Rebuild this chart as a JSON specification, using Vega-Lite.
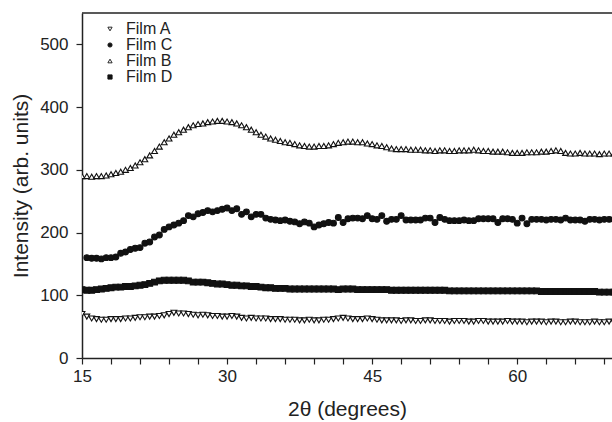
{
  "$schema": "https://vega.github.io/schema/vega-lite/v6.json",
  "autosize": {"type": "none"},
  "padding": {"left": 82, "top": 13, "right": 0, "bottom": 64},
  "width": 530,
  "height": 345,
  "background": "white",
  "config": {
    "view": {"stroke": null},
    "font": "Liberation Sans",
    "axis": {"grid": false, "domainColor": "#222", "domainWidth": 1.5, "tickColor": "#222", "tickWidth": 1.2, "tickSize": 6, "labelColor": "#222", "titleColor": "#222", "labelFont": "Liberation Sans", "titleFont": "Liberation Sans", "labelFontSize": 17, "titleFontSize": 21, "titleFontWeight": "normal"}
  },
  "datasets": {
    "films": [
      {"t":15,"f":"Film A","v":70},{"t":15.5,"f":"Film A","v":66},{"t":16,"f":"Film A","v":63},{"t":16.5,"f":"Film A","v":62},{"t":17,"f":"Film A","v":61},{"t":17.5,"f":"Film A","v":61},{"t":18,"f":"Film A","v":62},{"t":18.5,"f":"Film A","v":62},{"t":19,"f":"Film A","v":62},{"t":19.5,"f":"Film A","v":63},{"t":20,"f":"Film A","v":63},{"t":20.5,"f":"Film A","v":64},{"t":21,"f":"Film A","v":65},{"t":21.5,"f":"Film A","v":65},{"t":22,"f":"Film A","v":66},{"t":22.5,"f":"Film A","v":66},{"t":23,"f":"Film A","v":67},{"t":23.5,"f":"Film A","v":68},{"t":24,"f":"Film A","v":70},{"t":24.5,"f":"Film A","v":72},{"t":25,"f":"Film A","v":71},{"t":25.5,"f":"Film A","v":71},{"t":26,"f":"Film A","v":70},{"t":26.5,"f":"Film A","v":69},{"t":27,"f":"Film A","v":68},{"t":27.5,"f":"Film A","v":69},{"t":28,"f":"Film A","v":68},{"t":28.5,"f":"Film A","v":67},{"t":29,"f":"Film A","v":67},{"t":29.5,"f":"Film A","v":66},{"t":30,"f":"Film A","v":66},{"t":30.5,"f":"Film A","v":67},{"t":31,"f":"Film A","v":66},{"t":31.5,"f":"Film A","v":64},{"t":32,"f":"Film A","v":63},{"t":32.5,"f":"Film A","v":64},{"t":33,"f":"Film A","v":63},{"t":33.5,"f":"Film A","v":63},{"t":34,"f":"Film A","v":63},{"t":34.5,"f":"Film A","v":62},{"t":35,"f":"Film A","v":62},{"t":35.5,"f":"Film A","v":62},{"t":36,"f":"Film A","v":61},{"t":36.5,"f":"Film A","v":61},{"t":37,"f":"Film A","v":61},{"t":37.5,"f":"Film A","v":60},{"t":38,"f":"Film A","v":60},{"t":38.5,"f":"Film A","v":61},{"t":39,"f":"Film A","v":60},{"t":39.5,"f":"Film A","v":60},{"t":40,"f":"Film A","v":61},{"t":40.5,"f":"Film A","v":61},{"t":41,"f":"Film A","v":62},{"t":41.5,"f":"Film A","v":63},{"t":42,"f":"Film A","v":64},{"t":42.5,"f":"Film A","v":63},{"t":43,"f":"Film A","v":62},{"t":43.5,"f":"Film A","v":62},{"t":44,"f":"Film A","v":62},{"t":44.5,"f":"Film A","v":63},{"t":45,"f":"Film A","v":62},{"t":45.5,"f":"Film A","v":61},{"t":46,"f":"Film A","v":60},{"t":46.5,"f":"Film A","v":60},{"t":47,"f":"Film A","v":60},{"t":47.5,"f":"Film A","v":60},{"t":48,"f":"Film A","v":59},{"t":48.5,"f":"Film A","v":60},{"t":49,"f":"Film A","v":60},{"t":49.5,"f":"Film A","v":59},{"t":50,"f":"Film A","v":59},{"t":50.5,"f":"Film A","v":60},{"t":51,"f":"Film A","v":60},{"t":51.5,"f":"Film A","v":59},{"t":52,"f":"Film A","v":59},{"t":52.5,"f":"Film A","v":59},{"t":53,"f":"Film A","v":58},{"t":53.5,"f":"Film A","v":59},{"t":54,"f":"Film A","v":59},{"t":54.5,"f":"Film A","v":59},{"t":55,"f":"Film A","v":58},{"t":55.5,"f":"Film A","v":58},{"t":56,"f":"Film A","v":59},{"t":56.5,"f":"Film A","v":59},{"t":57,"f":"Film A","v":58},{"t":57.5,"f":"Film A","v":58},{"t":58,"f":"Film A","v":58},{"t":58.5,"f":"Film A","v":58},{"t":59,"f":"Film A","v":59},{"t":59.5,"f":"Film A","v":58},{"t":60,"f":"Film A","v":58},{"t":60.5,"f":"Film A","v":58},{"t":61,"f":"Film A","v":57},{"t":61.5,"f":"Film A","v":58},{"t":62,"f":"Film A","v":58},{"t":62.5,"f":"Film A","v":58},{"t":63,"f":"Film A","v":57},{"t":63.5,"f":"Film A","v":58},{"t":64,"f":"Film A","v":58},{"t":64.5,"f":"Film A","v":57},{"t":65,"f":"Film A","v":57},{"t":65.5,"f":"Film A","v":58},{"t":66,"f":"Film A","v":58},{"t":66.5,"f":"Film A","v":57},{"t":67,"f":"Film A","v":57},{"t":67.5,"f":"Film A","v":57},{"t":68,"f":"Film A","v":58},{"t":68.5,"f":"Film A","v":57},{"t":69,"f":"Film A","v":57},{"t":69.5,"f":"Film A","v":58},{"t":70,"f":"Film A","v":57},

      {"t":15.5,"f":"Film C","v":160},{"t":16,"f":"Film C","v":159},{"t":16.5,"f":"Film C","v":159},{"t":17,"f":"Film C","v":158},{"t":17.5,"f":"Film C","v":160},{"t":18,"f":"Film C","v":160},{"t":18.5,"f":"Film C","v":161},{"t":19,"f":"Film C","v":167},{"t":19.5,"f":"Film C","v":169},{"t":20,"f":"Film C","v":173},{"t":20.5,"f":"Film C","v":175},{"t":21,"f":"Film C","v":176},{"t":21.5,"f":"Film C","v":183},{"t":22,"f":"Film C","v":185},{"t":22.5,"f":"Film C","v":193},{"t":23,"f":"Film C","v":196},{"t":23.5,"f":"Film C","v":205},{"t":24,"f":"Film C","v":209},{"t":24.5,"f":"Film C","v":212},{"t":25,"f":"Film C","v":215},{"t":25.5,"f":"Film C","v":219},{"t":26,"f":"Film C","v":227},{"t":26.5,"f":"Film C","v":225},{"t":27,"f":"Film C","v":230},{"t":27.5,"f":"Film C","v":232},{"t":28,"f":"Film C","v":235},{"t":28.5,"f":"Film C","v":233},{"t":29,"f":"Film C","v":235},{"t":29.5,"f":"Film C","v":237},{"t":30,"f":"Film C","v":239},{"t":30.5,"f":"Film C","v":235},{"t":31,"f":"Film C","v":238},{"t":31.5,"f":"Film C","v":229},{"t":32,"f":"Film C","v":233},{"t":32.5,"f":"Film C","v":225},{"t":33,"f":"Film C","v":229},{"t":33.5,"f":"Film C","v":229},{"t":34,"f":"Film C","v":223},{"t":34.5,"f":"Film C","v":221},{"t":35,"f":"Film C","v":220},{"t":35.5,"f":"Film C","v":219},{"t":36,"f":"Film C","v":220},{"t":36.5,"f":"Film C","v":218},{"t":37,"f":"Film C","v":217},{"t":37.5,"f":"Film C","v":214},{"t":38,"f":"Film C","v":217},{"t":38.5,"f":"Film C","v":215},{"t":39,"f":"Film C","v":209},{"t":39.5,"f":"Film C","v":212},{"t":40,"f":"Film C","v":214},{"t":40.5,"f":"Film C","v":216},{"t":41,"f":"Film C","v":215},{"t":41.5,"f":"Film C","v":224},{"t":42,"f":"Film C","v":216},{"t":42.5,"f":"Film C","v":222},{"t":43,"f":"Film C","v":223},{"t":43.5,"f":"Film C","v":223},{"t":44,"f":"Film C","v":222},{"t":44.5,"f":"Film C","v":227},{"t":45,"f":"Film C","v":222},{"t":45.5,"f":"Film C","v":221},{"t":46,"f":"Film C","v":227},{"t":46.5,"f":"Film C","v":218},{"t":47,"f":"Film C","v":221},{"t":47.5,"f":"Film C","v":221},{"t":48,"f":"Film C","v":227},{"t":48.5,"f":"Film C","v":220},{"t":49,"f":"Film C","v":220},{"t":49.5,"f":"Film C","v":220},{"t":50,"f":"Film C","v":220},{"t":50.5,"f":"Film C","v":223},{"t":51,"f":"Film C","v":223},{"t":51.5,"f":"Film C","v":216},{"t":52,"f":"Film C","v":224},{"t":52.5,"f":"Film C","v":221},{"t":53,"f":"Film C","v":219},{"t":53.5,"f":"Film C","v":219},{"t":54,"f":"Film C","v":219},{"t":54.5,"f":"Film C","v":220},{"t":55,"f":"Film C","v":219},{"t":55.5,"f":"Film C","v":219},{"t":56,"f":"Film C","v":222},{"t":56.5,"f":"Film C","v":222},{"t":57,"f":"Film C","v":222},{"t":57.5,"f":"Film C","v":222},{"t":58,"f":"Film C","v":216},{"t":58.5,"f":"Film C","v":222},{"t":59,"f":"Film C","v":222},{"t":59.5,"f":"Film C","v":221},{"t":60,"f":"Film C","v":215},{"t":60.5,"f":"Film C","v":223},{"t":61,"f":"Film C","v":214},{"t":61.5,"f":"Film C","v":221},{"t":62,"f":"Film C","v":221},{"t":62.5,"f":"Film C","v":221},{"t":63,"f":"Film C","v":220},{"t":63.5,"f":"Film C","v":221},{"t":64,"f":"Film C","v":221},{"t":64.5,"f":"Film C","v":220},{"t":65,"f":"Film C","v":223},{"t":65.5,"f":"Film C","v":220},{"t":66,"f":"Film C","v":220},{"t":66.5,"f":"Film C","v":220},{"t":67,"f":"Film C","v":218},{"t":67.5,"f":"Film C","v":221},{"t":68,"f":"Film C","v":221},{"t":68.5,"f":"Film C","v":220},{"t":69,"f":"Film C","v":221},{"t":69.5,"f":"Film C","v":221},{"t":70,"f":"Film C","v":221},

      {"t":15,"f":"Film B","v":290},{"t":15.5,"f":"Film B","v":290},{"t":16,"f":"Film B","v":289},{"t":16.5,"f":"Film B","v":290},{"t":17,"f":"Film B","v":290},{"t":17.5,"f":"Film B","v":291},{"t":18,"f":"Film B","v":293},{"t":18.5,"f":"Film B","v":295},{"t":19,"f":"Film B","v":297},{"t":19.5,"f":"Film B","v":300},{"t":20,"f":"Film B","v":303},{"t":20.5,"f":"Film B","v":307},{"t":21,"f":"Film B","v":312},{"t":21.5,"f":"Film B","v":317},{"t":22,"f":"Film B","v":323},{"t":22.5,"f":"Film B","v":330},{"t":23,"f":"Film B","v":337},{"t":23.5,"f":"Film B","v":344},{"t":24,"f":"Film B","v":350},{"t":24.5,"f":"Film B","v":356},{"t":25,"f":"Film B","v":360},{"t":25.5,"f":"Film B","v":364},{"t":26,"f":"Film B","v":368},{"t":26.5,"f":"Film B","v":371},{"t":27,"f":"Film B","v":373},{"t":27.5,"f":"Film B","v":374},{"t":28,"f":"Film B","v":376},{"t":28.5,"f":"Film B","v":377},{"t":29,"f":"Film B","v":378},{"t":29.5,"f":"Film B","v":378},{"t":30,"f":"Film B","v":377},{"t":30.5,"f":"Film B","v":376},{"t":31,"f":"Film B","v":374},{"t":31.5,"f":"Film B","v":371},{"t":32,"f":"Film B","v":368},{"t":32.5,"f":"Film B","v":364},{"t":33,"f":"Film B","v":360},{"t":33.5,"f":"Film B","v":356},{"t":34,"f":"Film B","v":353},{"t":34.5,"f":"Film B","v":350},{"t":35,"f":"Film B","v":348},{"t":35.5,"f":"Film B","v":346},{"t":36,"f":"Film B","v":344},{"t":36.5,"f":"Film B","v":343},{"t":37,"f":"Film B","v":341},{"t":37.5,"f":"Film B","v":339},{"t":38,"f":"Film B","v":338},{"t":38.5,"f":"Film B","v":337},{"t":39,"f":"Film B","v":337},{"t":39.5,"f":"Film B","v":338},{"t":40,"f":"Film B","v":338},{"t":40.5,"f":"Film B","v":339},{"t":41,"f":"Film B","v":341},{"t":41.5,"f":"Film B","v":343},{"t":42,"f":"Film B","v":344},{"t":42.5,"f":"Film B","v":345},{"t":43,"f":"Film B","v":345},{"t":43.5,"f":"Film B","v":344},{"t":44,"f":"Film B","v":344},{"t":44.5,"f":"Film B","v":342},{"t":45,"f":"Film B","v":341},{"t":45.5,"f":"Film B","v":339},{"t":46,"f":"Film B","v":338},{"t":46.5,"f":"Film B","v":336},{"t":47,"f":"Film B","v":334},{"t":47.5,"f":"Film B","v":333},{"t":48,"f":"Film B","v":333},{"t":48.5,"f":"Film B","v":333},{"t":49,"f":"Film B","v":332},{"t":49.5,"f":"Film B","v":332},{"t":50,"f":"Film B","v":332},{"t":50.5,"f":"Film B","v":331},{"t":51,"f":"Film B","v":331},{"t":51.5,"f":"Film B","v":330},{"t":52,"f":"Film B","v":331},{"t":52.5,"f":"Film B","v":331},{"t":53,"f":"Film B","v":330},{"t":53.5,"f":"Film B","v":330},{"t":54,"f":"Film B","v":331},{"t":54.5,"f":"Film B","v":331},{"t":55,"f":"Film B","v":331},{"t":55.5,"f":"Film B","v":332},{"t":56,"f":"Film B","v":331},{"t":56.5,"f":"Film B","v":330},{"t":57,"f":"Film B","v":330},{"t":57.5,"f":"Film B","v":329},{"t":58,"f":"Film B","v":329},{"t":58.5,"f":"Film B","v":329},{"t":59,"f":"Film B","v":328},{"t":59.5,"f":"Film B","v":327},{"t":60,"f":"Film B","v":327},{"t":60.5,"f":"Film B","v":327},{"t":61,"f":"Film B","v":328},{"t":61.5,"f":"Film B","v":328},{"t":62,"f":"Film B","v":328},{"t":62.5,"f":"Film B","v":329},{"t":63,"f":"Film B","v":329},{"t":63.5,"f":"Film B","v":330},{"t":64,"f":"Film B","v":331},{"t":64.5,"f":"Film B","v":330},{"t":65,"f":"Film B","v":327},{"t":65.5,"f":"Film B","v":326},{"t":66,"f":"Film B","v":326},{"t":66.5,"f":"Film B","v":327},{"t":67,"f":"Film B","v":326},{"t":67.5,"f":"Film B","v":326},{"t":68,"f":"Film B","v":326},{"t":68.5,"f":"Film B","v":325},{"t":69,"f":"Film B","v":326},{"t":69.5,"f":"Film B","v":326},{"t":70,"f":"Film B","v":326},

      {"t":15,"f":"Film D","v":109},{"t":15.5,"f":"Film D","v":108},{"t":16,"f":"Film D","v":108},{"t":16.5,"f":"Film D","v":109},{"t":17,"f":"Film D","v":110},{"t":17.5,"f":"Film D","v":111},{"t":18,"f":"Film D","v":112},{"t":18.5,"f":"Film D","v":113},{"t":19,"f":"Film D","v":113},{"t":19.5,"f":"Film D","v":114},{"t":20,"f":"Film D","v":114},{"t":20.5,"f":"Film D","v":115},{"t":21,"f":"Film D","v":116},{"t":21.5,"f":"Film D","v":117},{"t":22,"f":"Film D","v":119},{"t":22.5,"f":"Film D","v":121},{"t":23,"f":"Film D","v":123},{"t":23.5,"f":"Film D","v":124},{"t":24,"f":"Film D","v":124},{"t":24.5,"f":"Film D","v":124},{"t":25,"f":"Film D","v":124},{"t":25.5,"f":"Film D","v":124},{"t":26,"f":"Film D","v":123},{"t":26.5,"f":"Film D","v":121},{"t":27,"f":"Film D","v":121},{"t":27.5,"f":"Film D","v":121},{"t":28,"f":"Film D","v":120},{"t":28.5,"f":"Film D","v":119},{"t":29,"f":"Film D","v":118},{"t":29.5,"f":"Film D","v":118},{"t":30,"f":"Film D","v":117},{"t":30.5,"f":"Film D","v":116},{"t":31,"f":"Film D","v":116},{"t":31.5,"f":"Film D","v":115},{"t":32,"f":"Film D","v":115},{"t":32.5,"f":"Film D","v":114},{"t":33,"f":"Film D","v":114},{"t":33.5,"f":"Film D","v":113},{"t":34,"f":"Film D","v":112},{"t":34.5,"f":"Film D","v":112},{"t":35,"f":"Film D","v":111},{"t":35.5,"f":"Film D","v":111},{"t":36,"f":"Film D","v":111},{"t":36.5,"f":"Film D","v":110},{"t":37,"f":"Film D","v":110},{"t":37.5,"f":"Film D","v":110},{"t":38,"f":"Film D","v":110},{"t":38.5,"f":"Film D","v":110},{"t":39,"f":"Film D","v":110},{"t":39.5,"f":"Film D","v":110},{"t":40,"f":"Film D","v":110},{"t":40.5,"f":"Film D","v":110},{"t":41,"f":"Film D","v":110},{"t":41.5,"f":"Film D","v":109},{"t":42,"f":"Film D","v":110},{"t":42.5,"f":"Film D","v":110},{"t":43,"f":"Film D","v":110},{"t":43.5,"f":"Film D","v":109},{"t":44,"f":"Film D","v":109},{"t":44.5,"f":"Film D","v":109},{"t":45,"f":"Film D","v":109},{"t":45.5,"f":"Film D","v":109},{"t":46,"f":"Film D","v":109},{"t":46.5,"f":"Film D","v":109},{"t":47,"f":"Film D","v":108},{"t":47.5,"f":"Film D","v":108},{"t":48,"f":"Film D","v":108},{"t":48.5,"f":"Film D","v":108},{"t":49,"f":"Film D","v":108},{"t":49.5,"f":"Film D","v":108},{"t":50,"f":"Film D","v":108},{"t":50.5,"f":"Film D","v":108},{"t":51,"f":"Film D","v":108},{"t":51.5,"f":"Film D","v":108},{"t":52,"f":"Film D","v":108},{"t":52.5,"f":"Film D","v":108},{"t":53,"f":"Film D","v":107},{"t":53.5,"f":"Film D","v":107},{"t":54,"f":"Film D","v":107},{"t":54.5,"f":"Film D","v":107},{"t":55,"f":"Film D","v":107},{"t":55.5,"f":"Film D","v":107},{"t":56,"f":"Film D","v":107},{"t":56.5,"f":"Film D","v":107},{"t":57,"f":"Film D","v":107},{"t":57.5,"f":"Film D","v":107},{"t":58,"f":"Film D","v":107},{"t":58.5,"f":"Film D","v":107},{"t":59,"f":"Film D","v":107},{"t":59.5,"f":"Film D","v":107},{"t":60,"f":"Film D","v":107},{"t":60.5,"f":"Film D","v":107},{"t":61,"f":"Film D","v":107},{"t":61.5,"f":"Film D","v":107},{"t":62,"f":"Film D","v":107},{"t":62.5,"f":"Film D","v":106},{"t":63,"f":"Film D","v":106},{"t":63.5,"f":"Film D","v":106},{"t":64,"f":"Film D","v":106},{"t":64.5,"f":"Film D","v":106},{"t":65,"f":"Film D","v":106},{"t":65.5,"f":"Film D","v":106},{"t":66,"f":"Film D","v":106},{"t":66.5,"f":"Film D","v":106},{"t":67,"f":"Film D","v":106},{"t":67.5,"f":"Film D","v":106},{"t":68,"f":"Film D","v":106},{"t":68.5,"f":"Film D","v":105},{"t":69,"f":"Film D","v":105},{"t":69.5,"f":"Film D","v":105},{"t":70,"f":"Film D","v":105}
    ]
  },
  "layer": [
    {
      "data": {"values": [{"edge": "top"}]},
      "mark": {"type": "rule", "color": "#222", "strokeWidth": 1.5},
      "encoding": {"y": {"datum": 550}}
    },
    {
      "data": {"name": "films"},
      "mark": {"type": "point", "filled": true, "strokeWidth": 1.1, "size": 34, "opacity": 1, "clip": true},
      "encoding": {
        "x": {"field": "t", "type": "quantitative", "scale": {"domain": [15, 69.8], "nice": false},
          "axis": {"title": "2θ (degrees)", "values": [15,18,21,24,27,30,33,36,39,42,45,48,51,54,57,60,63,66,69], "labelExpr": "datum.value % 15 == 0 ? datum.label : ''", "labelPadding": 4, "titlePadding": 14, "labelFlush": false}},
        "y": {"field": "v", "type": "quantitative", "scale": {"domain": [0, 550], "nice": false},
          "axis": {"title": "Intensity (arb. units)", "values": [0,50,100,150,200,250,300,350,400,450,500], "labelExpr": "datum.value % 100 == 0 ? datum.label : ''", "labelPadding": 8, "titlePadding": 8}},
        "shape": {"field": "f", "type": "nominal",
          "scale": {"domain": ["Film A", "Film C", "Film B", "Film D"], "range": ["triangle-down", "circle", "triangle-up", "square"]},
          "legend": {"title": null, "orient": "none", "legendX": 20, "legendY": 8, "padding": 0, "rowPadding": -2.3, "labelFontSize": 16, "labelFont": "Liberation Sans", "labelColor": "#222", "symbolSize": 18, "symbolStrokeWidth": 0.9, "labelOffset": 8}},
        "fill": {"field": "f", "type": "nominal",
          "scale": {"domain": ["Film A", "Film C", "Film B", "Film D"], "range": ["white", "#111", "white", "#111"]},
          "legend": {"title": null}},
        "stroke": {"value": "#111"}
      }
    }
  ]
}
